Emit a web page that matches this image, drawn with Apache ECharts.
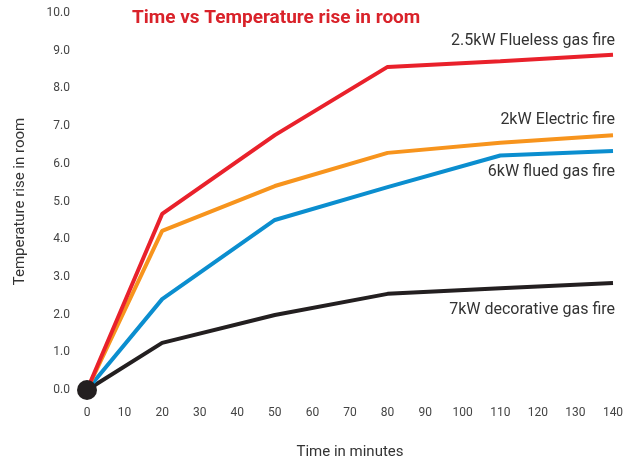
<!DOCTYPE html>
<html><head><meta charset="utf-8">
<script src="https://cdn.jsdelivr.net/npm/echarts@6/dist/echarts.min.js"></script>
<style>html,body{margin:0;padding:0;background:#fff}#c{width:643px;height:458px}</style>
</head><body><div id="c"></div>
<script>
const times = [0, 20, 50, 80, 110, 140];
const flueless = [0, 4.67, 6.76, 8.57, 8.72, 8.89];
const electric = [0, 4.22, 5.41, 6.29, 6.56, 6.76];
const flued = [0, 2.41, 4.51, 5.38, 6.22, 6.34];
const decorative = [0, 1.25, 1.99, 2.55, 2.70, 2.84];
const names = ['2.5kW Flueless gas fire', '2kW Electric fire', '6kW flued gas fire', '7kW decorative gas fire'];
const colors = ['#e9212b', '#f7941d', '#0b8ecf', '#231f20'];
const labelDy = [-14, -15, 21, 27];
const values = [flueless, electric, flued, decorative];
const font = 'Roboto';
const chart = echarts.init(document.getElementById('c'));
const series = values.map((v, i) => ({
  type: 'line', name: names[i], data: times.map((t, k) => [t, v[k]]),
  showSymbol: false, symbol: 'none', z: 10 - i,
  lineStyle: { color: colors[i], width: 4 },
  endLabel: { show: true, formatter: names[i], align: 'right', verticalAlign: 'middle',
    offset: [-6, labelDy[i]], color: '#333', fontSize: 16, fontFamily: font }
}));
series.push({ type: 'scatter', data: [[times[0], 0]], symbolSize: 20, itemStyle: { color: '#231f20', opacity: 1 }, z: 20 });
chart.setOption({
  animation: false,
  title: { text: 'Time vs Temperature rise in room', left: 127, top: 4,
    textStyle: { color: '#d9222a', fontSize: 19, fontWeight: 'bold', fontFamily: font } },
  grid: { left: 87, right: 30, top: 13, bottom: 68, outerBoundsMode: 'none', containLabel: false },
  xAxis: { type: 'value', min: 0, max: 140, interval: 10,
    name: 'Time in minutes', nameLocation: 'middle', nameGap: 55,
    nameTextStyle: { color: '#333', fontSize: 15, fontFamily: font },
    axisLine: { show: false }, axisTick: { show: false }, splitLine: { show: false },
    axisLabel: { color: '#444', fontSize: 12, margin: 17, fontFamily: font } },
  yAxis: { type: 'value', min: 0, max: 10, interval: 1,
    name: 'Temperature rise in room', nameLocation: 'middle', nameGap: 59,
    nameTextStyle: { color: '#333', fontSize: 15, fontFamily: font },
    axisLine: { show: false }, axisTick: { show: false }, splitLine: { show: false },
    axisLabel: { color: '#444', fontSize: 12, margin: 17, fontFamily: font,
      formatter: v => v.toFixed(1) } },
  series
});
</script></body></html>
